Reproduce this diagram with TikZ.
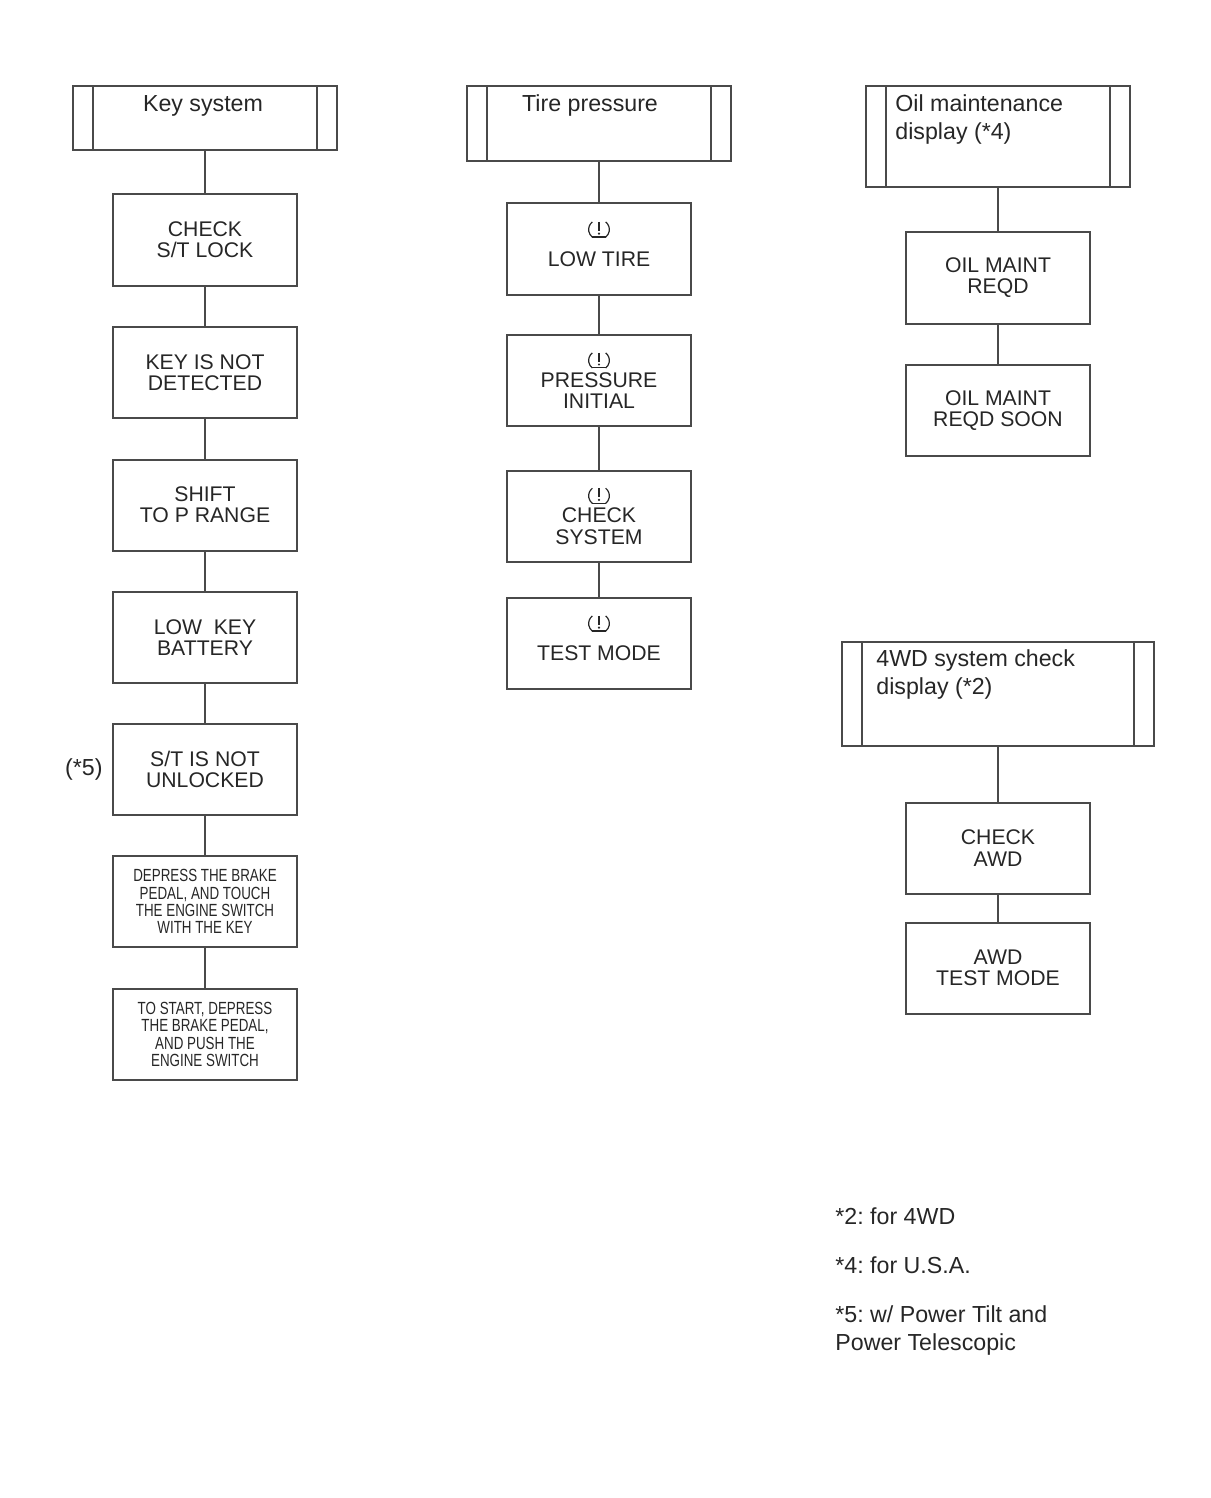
\documentclass[tikz,border=0pt]{standalone}
\usepackage{fontspec}
\setmainfont{Liberation Sans}
\newfontfamily\narrowfont[FakeStretch=0.76]{Liberation Sans}
\usetikzlibrary{positioning}
\frenchspacing

\definecolor{linegray}{HTML}{4A4A4A}
\definecolor{textgray}{HTML}{262626}

\newcommand{\tpmsicon}{\tikz[baseline=-3pt,x=1.15pt,y=1.1pt,line width=0.6pt]{%
  \draw (-2.9,3.4) arc (130:230:4.5);
  \draw (2.9,3.4) arc (50:-50:4.5);
  \draw (-2.9,-3.4) -- (2.9,-3.4);
  \draw (0,3.4) -- (0,-0.6);
  \fill (0,-1.9) circle (0.6pt);}}

\tikzset{
  headbox/.style={draw=linegray,line width=1pt,rectangle,inner sep=0pt,
    path picture={\draw[linegray,line width=1pt]
      ([xshift=10pt]path picture bounding box.north west) -- ([xshift=10pt]path picture bounding box.south west)
      ([xshift=-10pt]path picture bounding box.north east) -- ([xshift=-10pt]path picture bounding box.south east);}},
  msgbox/.style={draw=linegray,line width=1pt,rectangle,minimum width=92pt,minimum height=45.5pt,
    inner sep=0pt,align=center,text=textgray,font=\fontsize{10.6}{10.6}\selectfont},
  iconbox/.style={msgbox,text depth=5pt},
  smallbox/.style={msgbox,font=\narrowfont\fontsize{8.8}{8.6}\selectfont},
  headtext/.style={text=textgray,font=\fontsize{11.6}{14}\selectfont,inner sep=0pt,align=left},
  link/.style={draw=linegray,line width=1pt}
}

\begin{document}
\begin{tikzpicture}[x=0.5pt,y=-0.5pt]
    \useasboundingbox (0,0) rectangle (1210,1498);

    % key system
    \node[headbox,minimum width=132pt,minimum height=32pt] (keyhead) at (205,118) {};
    \node[headtext,anchor=base] at (203,112) {Key system};
    \node[msgbox] (stlock) at (205,240) {CHECK\\S/T LOCK};
    \node[msgbox] (nokey) at (205,372.5) {KEY IS NOT\\DETECTED};
    \node[msgbox] (prange) at (205,505) {SHIFT\\TO P RANGE};
    \node[msgbox] (lowkey) at (205,637.5) {LOW\ \ KEY\\BATTERY};
    \node[msgbox] (stunlock) at (205,769.5) {S/T IS NOT\\UNLOCKED};
    \node[headtext,anchor=base east] at (103,775) {(*5)};
    \node[smallbox] (touch) at (205,901.5) {DEPRESS THE BRAKE\\PEDAL, AND TOUCH\\THE ENGINE SWITCH\\WITH THE KEY};
    \node[smallbox] (start) at (205,1034.5) {TO START, DEPRESS\\THE BRAKE PEDAL,\\AND PUSH THE\\ENGINE SWITCH};
    \draw[link] (keyhead) -- (stlock);
    \draw[link] (stlock) -- (nokey);
    \draw[link] (nokey) -- (prange);
    \draw[link] (prange) -- (lowkey);
    \draw[link] (lowkey) -- (stunlock);
    \draw[link] (stunlock) -- (touch);
    \draw[link] (touch) -- (start);

    % tire pressure
    \node[headbox,minimum width=132pt,minimum height=37.5pt] (tirehead) at (599,123.5) {};
    \node[headtext,anchor=base] at (590,112) {Tire pressure};
    \node[iconbox] (lowtire) at (599,249) {\tpmsicon\\[5pt]LOW TIRE};
    \node[msgbox] (pinit) at (599,380.5) {\tpmsicon\\PRESSURE\\INITIAL};
    \node[msgbox] (tcheck) at (599,516) {\tpmsicon\\CHECK\\SYSTEM};
    \node[iconbox] (ttest) at (599,643) {\tpmsicon\\[5pt]TEST MODE};
    \draw[link] (tirehead) -- (lowtire);
    \draw[link] (lowtire) -- (pinit);
    \draw[link] (pinit) -- (tcheck);
    \draw[link] (tcheck) -- (ttest);

    % oil maintenance
    \node[headbox,minimum width=132pt,minimum height=50.5pt] (oilhead) at (998,136.5) {};
    \node[headtext,anchor=base west] at (895,112) {Oil maintenance};
    \node[headtext,anchor=base west] at (895,140) {display (*4)};
    \node[msgbox] (oilreqd) at (998,278) {OIL MAINT\\REQD};
    \node[msgbox] (oilsoon) at (998,410.5) {OIL MAINT\\REQD SOON};
    \draw[link] (oilhead) -- (oilreqd);
    \draw[link] (oilreqd) -- (oilsoon);

    % 4wd
    \node[headbox,minimum width=156pt,minimum height=52pt] (awdhead) at (998,694) {};
    \node[headtext,anchor=base west] at (876,666) {4WD system check};
    \node[headtext,anchor=base west] at (876,694) {display (*2)};
    \node[msgbox] (awdcheck) at (998,848) {CHECK\\AWD};
    \node[msgbox] (awdtest) at (998,968) {AWD\\TEST MODE};
    \draw[link] (awdhead) -- (awdcheck);
    \draw[link] (awdcheck) -- (awdtest);

    % notes
    \node[headtext,anchor=base west] at (835,1224) {*2: for 4WD};
    \node[headtext,anchor=base west] at (835,1273) {*4: for U.S.A.};
    \node[headtext,anchor=base west] at (835,1322) {*5: w/ Power Tilt and};
    \node[headtext,anchor=base west] at (835,1350) {Power Telescopic};
\end{tikzpicture}
\end{document}
